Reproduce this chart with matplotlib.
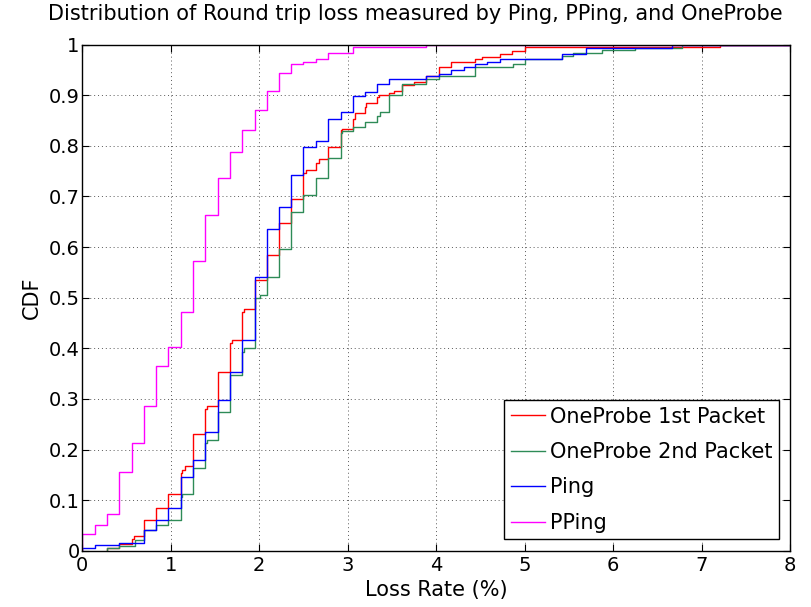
import matplotlib
matplotlib.use("Agg")
import matplotlib.pyplot as plt

# CDF step data (x = loss rate %, y = CDF after the step)
pping_x = [0, 0.14, 0.28, 0.42, 0.56, 0.70, 0.83, 0.97, 1.11, 1.25, 1.39, 1.53,
           1.67, 1.81, 1.95, 2.09, 2.22, 2.36, 2.50, 2.64, 2.78, 3.06, 3.89]
pping_y = [0.033, 0.050, 0.072, 0.156, 0.212, 0.286, 0.365, 0.403, 0.471, 0.573,
           0.663, 0.736, 0.787, 0.831, 0.870, 0.909, 0.944, 0.961, 0.965, 0.971,
           0.983, 0.995, 1.0]

ping_x = [0, 0.14, 0.42, 0.70, 0.83, 0.97, 1.11, 1.25, 1.39, 1.53, 1.67, 1.81,
          1.95, 2.09, 2.22, 2.36, 2.50, 2.64, 2.78, 2.92, 3.06, 3.19, 3.33, 3.47,
          3.89, 4.03, 4.17, 4.31, 4.44, 4.58, 4.72, 5.42, 5.69, 6.67]
ping_y = [0.005, 0.011, 0.016, 0.040, 0.061, 0.084, 0.145, 0.179, 0.235, 0.298,
          0.354, 0.416, 0.540, 0.635, 0.680, 0.742, 0.797, 0.809, 0.854, 0.866,
          0.899, 0.906, 0.922, 0.932, 0.938, 0.943, 0.950, 0.955, 0.961, 0.966,
          0.971, 0.982, 0.994, 1.0]

op1_x = [0.28, 0.42, 0.56, 0.58, 0.70, 0.83, 0.97, 1.11, 1.13, 1.16, 1.25, 1.39,
         1.41, 1.53, 1.67, 1.69, 1.81, 1.83, 1.95, 2.09, 2.22, 2.36, 2.50, 2.53,
         2.64, 2.68, 2.78, 2.92, 2.94, 3.06, 3.08, 3.19, 3.21, 3.33, 3.35, 3.47,
         3.52, 3.61, 3.75, 3.89, 4.03, 4.17, 4.44, 4.52, 4.72, 4.86, 5.00, 7.21]
op1_y = [0.005, 0.014, 0.024, 0.029, 0.061, 0.084, 0.112, 0.153, 0.160, 0.168,
         0.230, 0.280, 0.286, 0.354, 0.410, 0.416, 0.471, 0.477, 0.535, 0.584,
         0.647, 0.696, 0.746, 0.752, 0.766, 0.775, 0.797, 0.831, 0.834, 0.854,
         0.864, 0.877, 0.884, 0.896, 0.900, 0.904, 0.909, 0.920, 0.927, 0.938,
         0.955, 0.966, 0.971, 0.976, 0.982, 0.988, 0.995, 1.0]

op2_x = [0.28, 0.42, 0.59, 0.70, 0.83, 0.97, 1.11, 1.13, 1.25, 1.39, 1.41, 1.53,
         1.67, 1.81, 1.83, 1.95, 2.01, 2.09, 2.22, 2.36, 2.50, 2.64, 2.78, 2.92,
         2.94, 3.06, 3.19, 3.33, 3.36, 3.47, 3.61, 3.89, 4.03, 4.44, 4.87, 5.00,
         5.42, 5.55, 5.88, 6.25, 6.78]
op2_y = [0.005, 0.010, 0.022, 0.040, 0.050, 0.061, 0.107, 0.112, 0.163, 0.212,
         0.219, 0.275, 0.347, 0.393, 0.400, 0.499, 0.505, 0.540, 0.597, 0.669,
         0.703, 0.736, 0.777, 0.826, 0.829, 0.837, 0.848, 0.859, 0.866, 0.900,
         0.922, 0.933, 0.938, 0.955, 0.961, 0.971, 0.978, 0.983, 0.989, 0.994, 1.0]

series = [
    ("OneProbe 1st Packet", op1_x, op1_y, "#ff0000"),
    ("OneProbe 2nd Packet", op2_x, op2_y, "#2e8b57"),
    ("Ping", ping_x, ping_y, "#0000ff"),
    ("PPing", pping_x, pping_y, "#ff00ff"),
]

plt.rcParams['font.family'] = ['DejaVu Sans']

fig = plt.figure(figsize=(8.12, 6.07), dpi=100)
ax = fig.add_axes([0.1014, 0.0927, 0.8715, 0.8337])

for label, xs, ys, color in series:
    # start at zero, then step up at each observed value
    px = [xs[0]] + list(xs) + [8.5]
    py = [0.0] + list(ys) + [ys[-1]]
    ax.step(px, py, where='post', color=color, lw=1.0, label=label)

ax.set_xlim(0, 8)
ax.set_ylim(0, 1)
ax.set_xticks(range(0, 9))
ax.set_yticks([i / 10 for i in range(11)])
ax.set_yticklabels(['0', '0.1', '0.2', '0.3', '0.4', '0.5', '0.6', '0.7',
                    '0.8', '0.9', '1'])
ax.tick_params(direction='in', length=5, width=0.8, top=True, right=True,
               labelsize=14)
ax.tick_params(axis='y', pad=2)
ax.tick_params(axis='x', pad=4)
ax.grid(True, linestyle=(0, (1, 3)), color='0.35', lw=0.7)
for s in ax.spines.values():
    s.set_linewidth(1.0)

ax.set_xlabel('Loss Rate (%)', fontsize=15, labelpad=3.5)
ax.set_ylabel('CDF', fontsize=15, labelpad=5)
fig.text(0.511, 1 - 14 / 607, 'Distribution of Round trip loss measured by Ping, PPing, and OneProbe',
         ha='center', va='center', fontsize=15)

leg = ax.legend(loc='lower right', bbox_to_anchor=(0.9845, 0.023),
                borderaxespad=0, fancybox=False, framealpha=1,
                edgecolor='black', fontsize=15, handlelength=1.65,
                handletextpad=0.25, labelspacing=0.74, borderpad=0.3)
leg.get_frame().set_linewidth(1.0)

fig.savefig('out.png', dpi=100)
